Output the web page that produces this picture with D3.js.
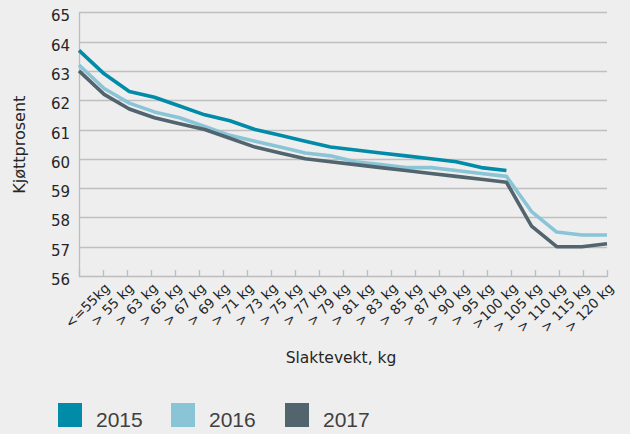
<!DOCTYPE html>
<html>
<head>
<meta charset="utf-8">
<script src="https://cdn.jsdelivr.net/npm/d3@7"></script>
<style>
html,body{margin:0;padding:0;background:#eeeeee;}
svg{display:block;}
</style>
</head>
<body>
<svg id="chart" width="630" height="434"></svg>
<script>
const categories = ["<=55kg","> 55 kg","> 63 kg","> 65 kg","> 67 kg","> 69 kg","> 71 kg","> 73 kg","> 75 kg","> 77 kg","> 79 kg","> 81 kg","> 83 kg","> 85 kg","> 87 kg","> 90 kg","> 95 kg",">100 kg","> 105 kg","> 110 kg","> 115 kg","> 120 kg"];
const series2015 = [63.7,62.9,62.3,62.1,61.8,61.5,61.3,61.0,60.8,60.6,60.4,60.3,60.2,60.1,60.0,59.9,59.7,59.6,null,null,null,null];
const series2016 = [63.2,62.4,61.9,61.6,61.4,61.1,60.8,60.6,60.4,60.2,60.1,59.9,59.8,59.7,59.7,59.6,59.5,59.4,58.2,57.5,57.4,57.4];
const series2017 = [63.0,62.2,61.7,61.4,61.2,61.0,60.7,60.4,60.2,60.0,59.9,59.8,59.7,59.6,59.5,59.4,59.3,59.2,57.7,57.0,57.0,57.1];
const seriesNames = ["2015","2016","2017"];
const seriesColors = ["#008ba8","#8ac5d7","#52646e"];
const yTicks = [56,57,58,59,60,61,62,63,64,65];
const yTitle = "Kjøttprosent";
const xTitle = "Slaktevekt, kg";

const svg = d3.select("#chart");
const pLeft = 79, pRight = 607, pTop = 12.3, pBottom = 276;

const xBand = d3.scaleBand().domain(categories).range([pLeft, pRight]).paddingInner(0).paddingOuter(0);
const xPoint = d3.scalePoint().domain(categories).range([pLeft, pRight]).padding(0);
const y = d3.scaleLinear().domain([56, 65]).range([pBottom, pTop]);

// gridlines
svg.append("g").selectAll("line").data(yTicks.filter(d => d > 56)).join("line")
  .attr("x1", pLeft).attr("x2", pRight)
  .attr("y1", d => Math.round(y(d)) + 0.5).attr("y2", d => Math.round(y(d)) + 0.5)
  .attr("stroke", "#bfbfbf").attr("stroke-width", 1.3);

// y axis line
svg.append("line").attr("x1", pLeft + 0.5).attr("x2", pLeft + 0.5)
  .attr("y1", pTop).attr("y2", pBottom).attr("stroke", "#bdbdbd").attr("stroke-width", 1.3);

// x axis line and ticks
svg.append("line").attr("x1", pLeft).attr("x2", pRight)
  .attr("y1", pBottom + 0.5).attr("y2", pBottom + 0.5).attr("stroke", "#bdbdbd").attr("stroke-width", 1.3);
const tickPos = categories.map(c => xBand(c)).concat([pRight]);
svg.append("g").selectAll("line").data(tickPos).join("line")
  .attr("x1", d => Math.round(d) + 0.5).attr("x2", d => Math.round(d) + 0.5)
  .attr("y1", pBottom - 6).attr("y2", pBottom + 1)
  .attr("stroke", "#bdbdbd").attr("stroke-width", 1.3);

// y tick labels
svg.append("g").selectAll("text").data(yTicks).join("text")
  .attr("x", 70).attr("y", d => y(d) + 9)
  .attr("text-anchor", "end")
  .attr("font-family", "DejaVu Sans, Verdana, sans-serif")
  .attr("font-size", 15).attr("fill", "#262626")
  .text(d => d);

// x tick labels
svg.append("g").selectAll("text").data(categories).join("text")
  .attr("transform", d => `translate(${xBand(d) + xBand.bandwidth() / 2 + 19.5},289) rotate(-45)`)
  .attr("text-anchor", "end")
  .attr("font-family", "DejaVu Sans, Verdana, sans-serif")
  .attr("font-size", 13.5).attr("fill", "#262626")
  .text(d => d);

// axis titles
svg.append("text")
  .attr("transform", `translate(25,${(pTop + pBottom) / 2 + 0.5}) rotate(-90)`)
  .attr("text-anchor", "middle")
  .attr("font-family", "DejaVu Sans, Verdana, sans-serif")
  .attr("font-size", 16).attr("fill", "#262626")
  .text(yTitle);
svg.append("text")
  .attr("x", 341).attr("y", 363)
  .attr("text-anchor", "middle")
  .attr("font-family", "DejaVu Sans, Verdana, sans-serif")
  .attr("font-size", 15.5).attr("fill", "#262626")
  .text(xTitle);

// lines
const allSeries = [series2015, series2016, series2017];
const line = d3.line()
  .defined(d => d.v != null)
  .x(d => xPoint(d.c))
  .y(d => y(d.v));
svg.append("g").selectAll("path").data(allSeries).join("path")
  .attr("d", s => line(s.map((v, i) => ({c: categories[i], v}))))
  .attr("fill", "none")
  .attr("stroke", (s, i) => seriesColors[i])
  .attr("stroke-width", 3.6)
  .attr("stroke-linejoin", "round");

// legend
const legendX = [58, 171, 285];
const lg = svg.append("g").selectAll("g").data(seriesNames).join("g")
  .attr("transform", (d, i) => `translate(${legendX[i]},403)`);
lg.append("rect").attr("width", 24).attr("height", 24)
  .attr("fill", (d, i) => seriesColors[i]);
lg.append("text").attr("x", 38).attr("y", 24.3)
  .attr("font-family", "Liberation Sans, Arial, sans-serif")
  .attr("font-size", 21).attr("fill", "#404040")
  .text(d => d);
</script>
</body>
</html>
